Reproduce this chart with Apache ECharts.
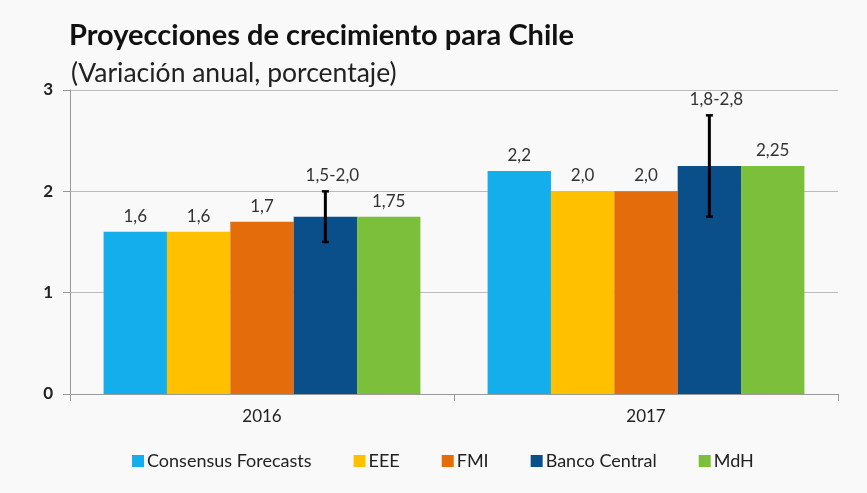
<!DOCTYPE html>
<html>
<head>
<meta charset="utf-8">
<script src="https://cdn.jsdelivr.net/npm/echarts@6/dist/echarts.min.js"></script>
<style>
  html, body { margin: 0; padding: 0; background: #f9f9f9; }
  #chart { width: 867px; height: 493px; }
</style>
</head>
<body>
<div id="chart"></div>
<script>
var years = ['2016', '2017']
var seriesNames = ['Consensus Forecasts', 'EEE', 'FMI', 'Banco Central', 'MdH']
var colors = ['#14AEEC', '#FFC000', '#E46C0A', '#0B4F8A', '#7CBF3A']
var consensus = [1.6, 2.2]
var eee = [1.6, 2.0]
var fmi = [1.7, 2.0]
var banco = [1.75, 2.25]
var mdh = [1.75, 2.25]
var bancoLow = [1.5, 1.75]
var bancoHigh = [2.0, 2.75]
var bancoRange = ['1,5-2,0', '1,8-2,8']
var yTicks = [0, 1, 2, 3]

var FONT = 'Lato'
var catGap = 0.175
var values = [consensus, eee, fmi, banco, mdh]

function fmt (v) {
  return (Math.round(v * 100) % 10 ? v.toFixed(2) : v.toFixed(1)).replace('.', ',')
}

var series = values.map(function (arr, i) {
  return {
    name: seriesNames[i],
    type: 'bar',
    data: arr,
    barGap: '0%',
    barCategoryGap: (catGap * 100) + '%',
    itemStyle: { color: colors[i] },
    label: {
      show: i !== 3,
      position: 'top',
      distance: 7,
      color: '#333',
      fontSize: 17,
      fontFamily: FONT,
      formatter: function (p) { return fmt(p.value) }
    }
  }
})

// barras de error del Banco Central
series.push({
  type: 'custom',
  name: 'rango',
  z: 10,
  data: years.map(function (y, i) { return [i, bancoLow[i], bancoHigh[i]] }),
  renderItem: function (params, api) {
    var idx = api.value(0)
    var low = api.coord([idx, api.value(1)])
    var high = api.coord([idx, api.value(2)])
    var band = api.size([1, 0])[0]
    var barW = band * (1 - catGap) / 5
    var x = low[0] + barW
    var cap = 3.5
    return {
      type: 'group',
      children: [
        { type: 'line', shape: { x1: x, y1: low[1], x2: x, y2: high[1] }, style: { stroke: '#000', lineWidth: 3 } },
        { type: 'line', shape: { x1: x - cap, y1: low[1], x2: x + cap, y2: low[1] }, style: { stroke: '#000', lineWidth: 2.5 } },
        { type: 'line', shape: { x1: x - cap, y1: high[1], x2: x + cap, y2: high[1] }, style: { stroke: '#000', lineWidth: 2.5 } },
        {
          type: 'text',
          x: x + 7,
          y: high[1] - 7,
          style: {
            text: bancoRange[params.dataIndex],
            fill: '#333',
            font: '17px ' + FONT,
            align: 'center',
            verticalAlign: 'bottom'
          }
        }
      ]
    }
  }
})

var chart = echarts.init(document.getElementById('chart'))
chart.setOption({
  backgroundColor: '#f9f9f9',
  animation: false,
  title: [
    {
      text: 'Proyecciones de crecimiento para Chile',
      left: 64,
      top: 16,
      textStyle: { fontFamily: FONT, fontWeight: 'bold', fontSize: 29, color: '#111' }
    },
    {
      text: '(Variación anual, porcentaje)',
      left: 66,
      top: 55,
      textStyle: { fontFamily: FONT, fontWeight: 'normal', fontSize: 26.5, color: '#222' }
    }
  ],
  legend: {
    data: seriesNames,
    top: 447,
    left: 127,
    itemWidth: 12,
    itemHeight: 12,
    itemGap: 42,
    icon: 'rect',
    textStyle: { fontFamily: FONT, fontSize: 18, color: '#222', padding: [0, 0, 0, -2] }
  },
  grid: { left: 70, right: 29, top: 90, bottom: 99 },
  xAxis: {
    type: 'category',
    data: years,
    axisLine: { lineStyle: { color: '#999' } },
    axisTick: { show: true, length: 7, lineStyle: { color: '#999' } },
    axisLabel: { color: '#222', fontSize: 17, fontFamily: FONT, margin: 14 }
  },
  yAxis: {
    type: 'value',
    min: yTicks[0],
    max: yTicks[yTicks.length - 1],
    interval: 1,
    axisLine: { show: true, lineStyle: { color: '#999' } },
    axisTick: { show: true, length: 7, lineStyle: { color: '#999' } },
    splitLine: { lineStyle: { color: '#bbb' } },
    axisLabel: { color: '#222', fontSize: 17, fontFamily: FONT, fontWeight: 'bold', margin: 17 }
  },
  series: series
})
</script>
</body>
</html>
